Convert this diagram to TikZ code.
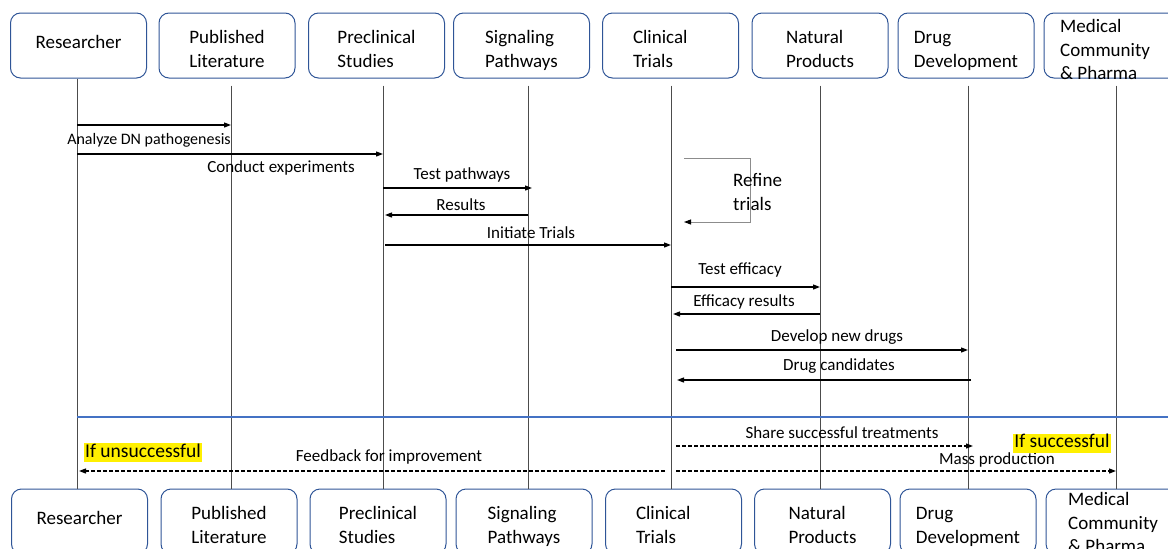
\documentclass[tikz,border=0pt]{standalone}
\usepackage{fontspec}
\setmainfont{Carlito}
\usetikzlibrary{arrows.meta}
\definecolor{boxblue}{RGB}{47,85,151}
\definecolor{lineblue}{RGB}{68,114,196}
\definecolor{hlyellow}{RGB}{255,240,0}
\newcommand{\actorhi}{\rule{0pt}{24pt}}
\newcommand{\actorlo}{\rule[-5pt]{0pt}{5pt}}
\newcommand{\actorone}{\rule[-7pt]{0pt}{7pt}}

\begin{document}
\begin{tikzpicture}[x=1pt,y=-1pt]
	\tikzstyle{every node}=[scale=1.0000]
	\tikzstyle{actor}=[draw=boxblue, line width=1.0000, rounded corners=10, minimum width=136, minimum height=65, align=left, font=\fontsize{19}{24}\selectfont]
	\tikzstyle{actortxt}=[inner sep=0, anchor=west, align=left, font=\fontsize{19}{23.5}\selectfont]
	\tikzstyle{lifeline}=[black!70, line width=0.8000, shorten <=7]
	\tikzstyle{msg}=[-{Triangle[length=7,width=5]}, line width=1.2000, black]
	\tikzstyle{reply}=[msg, dash pattern=on 4 off 2]
	\tikzstyle{lbl}=[inner sep=0, font=\fontsize{17}{20}\selectfont]
	\tikzstyle{hl}=[fill=hlyellow, inner xsep=1.5, inner ysep=0, text height=14, text depth=5, font=\fontsize{19.5}{22}\selectfont]

	\path[use as bounding box, clip] (0,0) rectangle (1168,549);

	%% actors, top row
	\node[actor, align=center] (res1) at (78.5000,45.5000) {Researcher\actorone};
	\node[actor, align=center] (lit1) at (227.0000,45.5000) {\actorhi Published\\Literature\actorlo};
	\node[actor] (pre1) at (376.5000,45.5000) {\actorhi Preclinical\\Studies\actorlo};
	\node[actor] (sig1) at (521.5000,45.5000) {\actorhi Signaling\\Pathways\actorlo};
	\node[actor, text width=75] (cli1) at (670.5000,45.5000) {\actorhi Clinical\\Trials\actorlo};
	\node[actor] (nat1) at (820.0000,45.5000) {\actorhi Natural\\Products\actorlo};
	\node[actor] (drug1) at (966.0000,45.5000) {\actorhi Drug\\Development\actorlo};
	\node[actor] (med1) at (1112.0000,45.5000) {};
	\node[actortxt] (med1t) at (1060.0000,49.5000) {Medical\\Community\\\& Pharma};

	%% actors, bottom row
	\node[actor, align=center] (res2) at (79.5000,521.5000) {Researcher\actorone};
	\node[actor, align=center] (lit2) at (229.0000,521.5000) {\actorhi Published\\Literature\actorlo};
	\node[actor] (pre2) at (378.0000,521.5000) {\actorhi Preclinical\\Studies\actorlo};
	\node[actor] (sig2) at (524.0000,521.5000) {\actorhi Signaling\\Pathways\actorlo};
	\node[actor, text width=75] (cli2) at (673.5000,521.5000) {\actorhi Clinical\\Trials\actorlo};
	\node[actor] (nat2) at (822.5000,521.5000) {\actorhi Natural\\Products\actorlo};
	\node[actor] (drug2) at (968.0000,521.5000) {\actorhi Drug\\Development\actorlo};
	\node[actor] (med2) at (1114.0000,521.5000) {};
	\node[actortxt] (med2t) at (1068.0000,522.5000) {Medical\\Community\\\& Pharma};

	%% lifelines
	\coordinate (resL) at (77.0000,0);
	\coordinate (litL) at (231.0000,0);
	\coordinate (preL) at (383.0000,0);
	\coordinate (sigL) at (528.0000,0);
	\coordinate (cliL) at (671.0000,0);
	\coordinate (natL) at (820.0000,0);
	\coordinate (drugL) at (968.0000,0);
	\coordinate (medL) at (1116.0000,0);
	\draw[lifeline, shorten <=0] (res1.south -| resL) -- (res2.north -| resL);
	\draw[lifeline] (lit1.south -| litL) -- (lit2.north -| litL);
	\draw[lifeline] (pre1.south -| preL) -- (pre2.north -| preL);
	\draw[lifeline] (sig1.south -| sigL) -- (sig2.north -| sigL);
	\draw[lifeline] (cli1.south -| cliL) -- (cli2.north -| cliL);
	\draw[lifeline] (nat1.south -| natL) -- (nat2.north -| natL);
	\draw[lifeline] (drug1.south -| drugL) -- (drug2.north -| drugL);
	\draw[lifeline] (med1.south -| medL) -- (med2.north -| medL);

	%% messages
	\draw[msg] (resL |- 0,125) -- (litL |- 0,125);
	\node[lbl, font=\fontsize{16}{19}\selectfont] (m1) at (149.0000,140.0000) {Analyze DN pathogenesis};
	\draw[msg] (resL |- 0,154) -- (preL |- 0,154);
	\node[lbl] (m2) at (281.0000,168.0000) {Conduct experiments};
	\draw[msg] (preL |- 0,188) -- ([xshift=4]sigL |- 0,188);
	\node[lbl] (m3) at (462.0000,175.0000) {Test pathways};
	\draw[msg] (sigL |- 0,215) -- ([xshift=2]preL |- 0,215);
	\node[lbl] (m4) at (461.0000,205.0000) {Results};
	\draw[msg] ([xshift=2]preL |- 0,245) -- (cliL |- 0,245);
	\node[lbl] (m5) at (531.0000,233.0000) {Initiate Trials};

	\coordinate (rfA) at (684.0000,158.0000);
	\coordinate (rfB) at (750.0000,158.0000);
	\coordinate (rfC) at (750.0000,222.0000);
	\coordinate (rfD) at (684.0000,222.0000);
	\draw[-{Triangle[length=7,width=5,black]}, black!45, line width=0.9000] (rfA) -- (rfB) -- (rfC) -- (rfD);
	\node[actortxt] (m6) at (733.0000,192.0000) {Refine\\trials};

	\draw[msg] (cliL |- 0,287) -- (natL |- 0,287);
	\node[lbl] (m7) at (740.0000,270.0000) {Test efficacy};
	\draw[msg] (natL |- 0,314) -- ([xshift=2]cliL |- 0,314);
	\node[lbl] (m8) at (744.0000,302.0000) {Efficacy results};
	\draw[msg] ([xshift=5]cliL |- 0,350) -- (drugL |- 0,350);
	\node[lbl] (m9) at (837.0000,337.0000) {Develop new drugs};
	\draw[msg] ([xshift=3]drugL |- 0,380) -- ([xshift=6]cliL |- 0,380);
	\node[lbl] (m10) at (839.0000,366.0000) {Drug candidates};

	%% outcome section
	\draw[lineblue, line width=1.3000] (resL |- 0,417) -- (1168.0000,417.0000);
	\draw[reply] ([xshift=5]cliL |- 0,446) -- ([xshift=5]drugL |- 0,446);
	\node[lbl] (m11) at (842.0000,433.0000) {Share successful treatments};
	\draw[reply] ([xshift=-6]cliL |- 0,471) -- ([xshift=2]resL |- 0,471);
	\node[lbl] (m12) at (389.0000,457.0000) {Feedback for improvement};
	\draw[reply] ([xshift=5]cliL |- 0,471) -- (medL |- 0,471);
	\node[lbl] (m13) at (997.0000,460.0000) {Mass production};

	\node[hl] (unsucc) at (143.0000,452.5000) {If unsuccessful};
	\node[hl] (succ) at (1062.0000,443.0000) {If successful};

\end{tikzpicture}
\end{document}
